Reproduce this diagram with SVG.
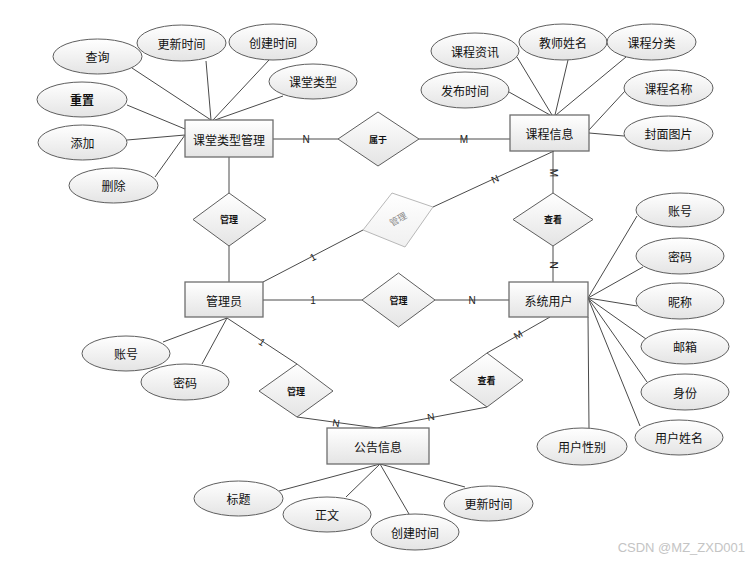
<svg xmlns="http://www.w3.org/2000/svg" width="753" height="562" viewBox="0 0 753 562">
<defs>
<linearGradient id="g" x1="0" y1="0" x2="0" y2="1">
<stop offset="0" stop-color="#ffffff"/>
<stop offset="1" stop-color="#e4e4e4"/>
</linearGradient>
<linearGradient id="gf" x1="0" y1="0" x2="0" y2="1">
<stop offset="0" stop-color="#ffffff"/>
<stop offset="1" stop-color="#f0f0f0"/>
</linearGradient>
</defs>
<style>
.ent rect{fill:url(#g);stroke:#6e6e6e;stroke-width:1.3}
.attr ellipse{fill:url(#g);stroke:#5e5e5e;stroke-width:1}
.rel polygon{fill:url(#g);stroke:#5e5e5e;stroke-width:1}
.faded polygon{fill:url(#gf);stroke:#b8b8b8;stroke-width:1}
.t{font-family:"Noto Sans CJK SC","Noto Sans CJK JP",sans-serif;font-size:12px;text-anchor:middle;dominant-baseline:central;fill:#111}
.rt{font-size:9px;font-weight:bold}
.ft{font-size:9px;fill:#888}
#connectors line{stroke:#4a4a4a;stroke-width:1}
.lbl{font-family:"Liberation Sans",Arial,sans-serif;font-size:10px;text-anchor:middle;dominant-baseline:central;fill:#222}
.wm{font-family:"Liberation Sans",Arial,sans-serif;font-size:13px;fill:#c4c4c4;text-anchor:end}
</style>
<rect width="753" height="562" fill="#ffffff"/>
<g id="connectors">
<line x1="273" y1="139" x2="338" y2="139"/>
<line x1="419" y1="139" x2="510" y2="139"/>
<line x1="229" y1="157" x2="229" y2="193"/>
<line x1="229" y1="246" x2="229" y2="282"/>
<line x1="554" y1="151" x2="433" y2="207"/>
<line x1="363" y1="230" x2="263" y2="282"/>
<line x1="553" y1="151" x2="553" y2="193"/>
<line x1="553" y1="246" x2="553" y2="282"/>
<line x1="263" y1="300" x2="362" y2="300"/>
<line x1="435" y1="300" x2="509" y2="300"/>
<line x1="227" y1="318" x2="297" y2="364"/>
<line x1="297" y1="417" x2="377" y2="428"/>
<line x1="550" y1="317" x2="487" y2="353"/>
<line x1="487" y1="407" x2="377" y2="428"/>
<line x1="132" y1="68" x2="211" y2="120"/>
<line x1="206" y1="61" x2="211" y2="120"/>
<line x1="269" y1="60" x2="213" y2="120"/>
<line x1="283" y1="96" x2="215" y2="120"/>
<line x1="127" y1="105" x2="185" y2="129"/>
<line x1="127" y1="140" x2="185" y2="135"/>
<line x1="155" y1="177" x2="185" y2="135"/>
<line x1="517" y1="57" x2="552" y2="115"/>
<line x1="568" y1="60" x2="555" y2="115"/>
<line x1="626" y1="57" x2="556" y2="115"/>
<line x1="509" y1="92" x2="550" y2="115"/>
<line x1="625" y1="91" x2="589" y2="130"/>
<line x1="624" y1="136" x2="589" y2="133"/>
<line x1="588" y1="298" x2="637" y2="216"/>
<line x1="588" y1="298" x2="643" y2="267"/>
<line x1="588" y1="298" x2="637" y2="306"/>
<line x1="588" y1="298" x2="646" y2="339"/>
<line x1="588" y1="298" x2="647" y2="382"/>
<line x1="588" y1="298" x2="640" y2="426"/>
<line x1="588" y1="317" x2="589" y2="428"/>
<line x1="227" y1="318" x2="163" y2="342"/>
<line x1="227" y1="318" x2="202" y2="364"/>
<line x1="380" y1="464" x2="279" y2="491"/>
<line x1="380" y1="464" x2="346" y2="497"/>
<line x1="380" y1="464" x2="409" y2="514"/>
<line x1="380" y1="464" x2="465" y2="487"/>
<text class="lbl" x="306" y="139">N</text>
<text class="lbl" x="464" y="139">M</text>
<text class="lbl" transform="translate(553,173) rotate(90)">M</text>
<text class="lbl" transform="translate(495,179) rotate(-25)">N</text>
<text class="lbl" transform="translate(313,257) rotate(-27)">1</text>
<text class="lbl" x="313" y="300">1</text>
<text class="lbl" x="472" y="300">N</text>
<text class="lbl" transform="translate(553,265) rotate(90)">N</text>
<text class="lbl" transform="translate(262,342) rotate(33)">1</text>
<text class="lbl" transform="translate(336,423) rotate(8)">N</text>
<text class="lbl" transform="translate(431,417) rotate(-11)">N</text>
<text class="lbl" transform="translate(518,335) rotate(-30)">M</text>
</g>
<g id="e-kttype" class="ent"><rect x="185" y="120" width="88" height="37"/><text class="t" x="229" y="139">课堂类型管理</text></g>
<g id="e-course" class="ent"><rect x="510" y="115" width="79" height="36"/><text class="t" x="549.5" y="133">课程信息</text></g>
<g id="e-admin" class="ent"><rect x="185" y="282" width="78" height="35"/><text class="t" x="224" y="300">管理员</text></g>
<g id="e-user" class="ent"><rect x="509" y="282" width="79" height="35"/><text class="t" x="548.5" y="300">系统用户</text></g>
<g id="e-notice" class="ent"><rect x="327" y="428" width="102" height="36"/><text class="t" x="378" y="446">公告信息</text></g>
<g id="r-shuyu" class="rel"><polygon points="338,139 378,112 419,139 378,166"/><text class="t rt" x="378" y="139">属于</text></g>
<g id="r-guanli1" class="rel"><polygon points="193,219.5 229,193 266,219.5 229,246"/><text class="t rt" x="229" y="219.5">管理</text></g>
<g id="r-guanli-faded" class="faded"><polygon points="363,230 392,193 433,207 405,247"/><text class="t ft" transform="translate(398,219) rotate(-30)">管理</text></g>
<g id="r-chakan1" class="rel"><polygon points="513,219.5 553,193 593,219.5 553,246"/><text class="t rt" x="553" y="219.5">查看</text></g>
<g id="r-guanli2" class="rel"><polygon points="362,300 398.5,273 435,300 398.5,327"/><text class="t rt" x="398.5" y="300">管理</text></g>
<g id="r-guanli3" class="rel"><polygon points="259,391 297,364 333,391 297,417"/><text class="t rt" x="296" y="391">管理</text></g>
<g id="r-chakan2" class="rel"><polygon points="450,380 487,353 523,380 487,407"/><text class="t rt" x="486.5" y="380">查看</text></g>
<g id="a-chaxun" class="attr"><ellipse cx="97.5" cy="56.5" rx="44.5" ry="17.5"/><text class="t" x="97.5" y="56.5">查询</text></g>
<g id="a-gengxin1" class="attr"><ellipse cx="181.5" cy="43" rx="44.5" ry="18"/><text class="t" x="181.5" y="43">更新时间</text></g>
<g id="a-chuangjian1" class="attr"><ellipse cx="273" cy="42" rx="44" ry="18"/><text class="t" x="273" y="42">创建时间</text></g>
<g id="a-kttype" class="attr"><ellipse cx="313" cy="81.5" rx="44" ry="17.5"/><text class="t" x="313" y="81.5">课堂类型</text></g>
<g id="a-chongzhi" class="attr"><ellipse cx="82" cy="99.5" rx="45" ry="17.5"/><text class="t" x="82" y="99.5" font-weight="bold">重置</text></g>
<g id="a-tianjia" class="attr"><ellipse cx="82.5" cy="142.5" rx="44.5" ry="17.5"/><text class="t" x="82.5" y="142.5">添加</text></g>
<g id="a-shanchu" class="attr"><ellipse cx="113.5" cy="185.5" rx="44.5" ry="17.5"/><text class="t" x="113.5" y="185.5">删除</text></g>
<g id="a-zixun" class="attr"><ellipse cx="475" cy="51" rx="44" ry="18"/><text class="t" x="475" y="51">课程资讯</text></g>
<g id="a-jiaoshi" class="attr"><ellipse cx="563" cy="42" rx="44" ry="18"/><text class="t" x="563" y="42">教师姓名</text></g>
<g id="a-fenlei" class="attr"><ellipse cx="651.5" cy="42" rx="44.5" ry="18"/><text class="t" x="651.5" y="42">课程分类</text></g>
<g id="a-fabu" class="attr"><ellipse cx="465" cy="90" rx="44" ry="18"/><text class="t" x="465" y="90">发布时间</text></g>
<g id="a-mingcheng" class="attr"><ellipse cx="668.5" cy="88" rx="44.5" ry="18"/><text class="t" x="668.5" y="88">课程名称</text></g>
<g id="a-fengmian" class="attr"><ellipse cx="668.5" cy="133.5" rx="44.5" ry="17.5"/><text class="t" x="668.5" y="133.5">封面图片</text></g>
<g id="a-uzhanghao" class="attr"><ellipse cx="680" cy="210" rx="44" ry="17"/><text class="t" x="680" y="210">账号</text></g>
<g id="a-umima" class="attr"><ellipse cx="680" cy="256" rx="44" ry="18"/><text class="t" x="680" y="256">密码</text></g>
<g id="a-nicheng" class="attr"><ellipse cx="680" cy="301" rx="44" ry="18"/><text class="t" x="680" y="301">昵称</text></g>
<g id="a-youxiang" class="attr"><ellipse cx="685" cy="346.5" rx="44" ry="17.5"/><text class="t" x="685" y="346.5">邮箱</text></g>
<g id="a-shenfen" class="attr"><ellipse cx="685" cy="392" rx="44" ry="18"/><text class="t" x="685" y="392">身份</text></g>
<g id="a-xingming" class="attr"><ellipse cx="679" cy="437.5" rx="44" ry="17.5"/><text class="t" x="679" y="437.5">用户姓名</text></g>
<g id="a-xingbie" class="attr"><ellipse cx="582" cy="446.5" rx="45" ry="18.5"/><text class="t" x="582" y="446.5">用户性别</text></g>
<g id="a-azhanghao" class="attr"><ellipse cx="126" cy="353.5" rx="44" ry="17.5"/><text class="t" x="126" y="353.5">账号</text></g>
<g id="a-amima" class="attr"><ellipse cx="185" cy="382" rx="44" ry="18"/><text class="t" x="185" y="382">密码</text></g>
<g id="a-biaoti" class="attr"><ellipse cx="238.5" cy="498.5" rx="44.5" ry="17.5"/><text class="t" x="238.5" y="498.5">标题</text></g>
<g id="a-zhengwen" class="attr"><ellipse cx="327" cy="514.5" rx="44" ry="17.5"/><text class="t" x="327" y="514.5">正文</text></g>
<g id="a-chuangjian2" class="attr"><ellipse cx="415" cy="532" rx="44" ry="18"/><text class="t" x="415" y="532">创建时间</text></g>
<g id="a-gengxin2" class="attr"><ellipse cx="488.5" cy="503.5" rx="44.5" ry="17.5"/><text class="t" x="488.5" y="503.5">更新时间</text></g>
<text class="wm" x="745" y="552">CSDN @MZ_ZXD001</text>
</svg>
